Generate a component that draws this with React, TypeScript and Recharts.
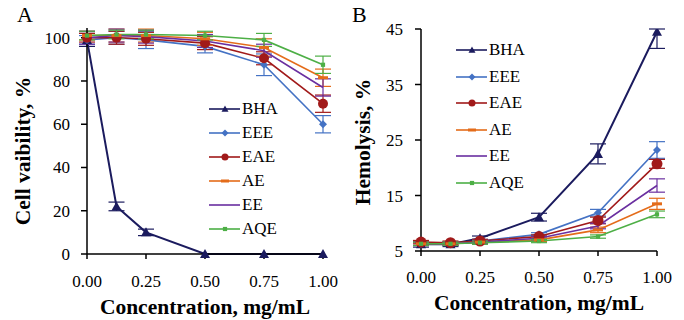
import React from "react";
import { LineChart, Line, XAxis, YAxis, ErrorBar } from "recharts";

// concentrations, mg/mL
const conc = [0, 0.125, 0.25, 0.5, 0.75, 1];
const xTicks = [0, 0.25, 0.5, 0.75, 1];
const viabTicks = [0, 20, 40, 60, 80, 100];
const hemoTicks = [5, 15, 25, 35, 45];

const names = ["BHA", "EEE", "EAE", "AE", "EE", "AQE"];

// panel A: cell viability, %
const viabBHA = [99, 22, 10, 0, 0, 0];
const viabEEE = [99, 100, 99, 96, 87.5, 60];
const viabEAE = [100, 100, 99.5, 97.5, 90.5, 69.5];
const viabAE = [101, 101, 101, 99.5, 95.5, 81.5];
const viabEE = [100, 101, 100.5, 98.5, 94, 77];
const viabAQE = [101, 101.5, 101.5, 101, 99, 87.5];

const viabErrBHA = [3, 2, 1.5, 0, 0, 0];
const viabErrEEE = [2, 3, 4, 3, 5, 4];
const viabErrEAE = [2, 3, 3, 3, 3, 4];
const viabErrAE = [2, 3, 3, 3, 4, 4];
const viabErrEE = [3, 3, 3, 3, 3, 4];
const viabErrAQE = [2, 2, 2, 2, 3, 4];

// panel B: hemolysis, %
const hemoBHA = [6.2, 6.2, 7.3, 11.1, 22.5, 44.5];
const hemoEEE = [6.3, 6.3, 6.8, 8.0, 11.9, 23.2];
const hemoEAE = [6.6, 6.5, 6.8, 7.6, 10.5, 20.7];
const hemoAE = [6.3, 6.3, 6.6, 7.0, 8.8, 13.5];
const hemoEE = [6.3, 6.3, 6.6, 7.3, 9.5, 16.8];
const hemoAQE = [6.3, 6.3, 6.5, 6.8, 7.6, 11.6];

// [lower, upper]; the upper arm of the last BHA bar is cut by the frame
const hemoErrBHA: any[] = [0.5, 0.4, 0.4, 0.7, 1.8, [3, 0.5]];
const hemoErrEEE = [0.3, 0.3, 0.3, 0.3, 0.6, 1.5];
const hemoErrEAE = [0.3, 0.3, 0.3, 0.3, 0.6, 0.8];
const hemoErrAE = [0.3, 0.3, 0.3, 0.3, 0.5, 1.0];
const hemoErrEE = [0.3, 0.3, 0.3, 0.3, 0.5, 1.2];
const hemoErrAQE = [0.3, 0.3, 0.3, 0.3, 0.3, 0.6];

const colors = ["#1B1B5E", "#4472C4", "#A11A1A", "#E46C1A", "#6A2FA0", "#4DAF46"];
const shapes = ["triangle", "diamond", "circle", "dash", "none", "square"];

const FONT = "'Liberation Serif', 'Times New Roman', serif";

const viabVals = [viabBHA, viabEEE, viabEAE, viabAE, viabEE, viabAQE];
const viabErrs = [viabErrBHA, viabErrEEE, viabErrEAE, viabErrAE, viabErrEE, viabErrAQE];
const hemoVals = [hemoBHA, hemoEEE, hemoEAE, hemoAE, hemoEE, hemoAQE];
const hemoErrs = [hemoErrBHA, hemoErrEEE, hemoErrEAE, hemoErrAE, hemoErrEE, hemoErrAQE];

function buildRows(vals: number[][], errs: any[][]) {
  return conc.map((c, i) => {
    const row: any = { c };
    names.forEach((n, k) => {
      row[n] = vals[k][i];
      row[n + "_err"] = errs[k][i];
    });
    return row;
  });
}

const viabData = buildRows(viabVals, viabErrs);
const hemoData = buildRows(hemoVals, hemoErrs);

function Marker({ shape, x, y, color, s }: any) {
  if (shape === "triangle")
    return <path d={`M${x},${y - s} L${x + s},${y + s * 0.8} L${x - s},${y + s * 0.8} Z`} fill={color} />;
  if (shape === "diamond")
    return <path d={`M${x},${y - s} L${x + s},${y} L${x},${y + s} L${x - s},${y} Z`} fill={color} />;
  if (shape === "circle") return <circle cx={x} cy={y} r={s} fill={color} />;
  if (shape === "dash") return <rect x={x - s} y={y - 1.5} width={s * 2} height={3} fill={color} />;
  if (shape === "square") return <rect x={x - s * 0.6} y={y - s * 0.6} width={s * 1.2} height={s * 1.2} fill={color} />;
  return null;
}

function makeDot(k: number, big: boolean) {
  const sizes = big ? [5, 4, 5.5, 5, 0, 3.5] : [5, 4, 5, 5, 0, 3.5];
  return (props: any) => {
    const { cx, cy, index } = props;
    if (cx == null || cy == null) return <g key={index} />;
    return (
      <g key={`d${k}-${index}`}>
        <Marker shape={shapes[k]} x={cx} y={cy} color={colors[k]} s={sizes[k]} />
      </g>
    );
  };
}

function LegendBox({ gap, left, top }: any) {
  return (
    <div style={{ position: "absolute", left, top, fontFamily: FONT, fontSize: 17, color: "#000" }}>
      {names.map((n, k) => (
        <div key={n} style={{ display: "flex", alignItems: "center", height: gap }}>
          <svg width={32} height={12}>
            <line x1={0} y1={6} x2={31} y2={6} stroke={colors[k]} strokeWidth={1.6} />
            <Marker shape={shapes[k]} x={16} y={6} color={colors[k]} s={k === 3 ? 4 : 3.5} />
          </svg>
          <span style={{ marginLeft: 1 }}>{n}</span>
        </div>
      ))}
    </div>
  );
}

const tickFont = { fontFamily: FONT, fontSize: 17, fill: "#000" };
const titleStyle = { fontFamily: FONT, fontSize: 21.5, fontWeight: 700, fill: "#000" };

function Panel({ data, domain, ticks, yLabel, margin, yWidth, xHeight, labelX, labelY, titleY, xTickY, yTickRight, overflow, big }: any) {
  const xTick = (p: any) => (
    <text x={p.x} y={xTickY} textAnchor="middle" style={tickFont}>
      {Number(p.payload.value).toFixed(2)}
    </text>
  );
  const yTick = (p: any) => (
    <text x={yTickRight} y={p.y + 6} textAnchor="end" style={tickFont}>
      {p.payload.value}
    </text>
  );
  return (
    <LineChart width={342} height={320} data={data} margin={margin}>
      <XAxis
        dataKey="c"
        type="number"
        domain={[0, 1]}
        ticks={xTicks}
        interval={0}
        tick={xTick}
        tickSize={5}
        height={xHeight}
        stroke="#000"
        strokeWidth={1.5}
        label={{
          content: (p: any) => {
            const vb = p.viewBox;
            return (
              <text x={vb.x + vb.width / 2} y={titleY} textAnchor="middle" style={titleStyle}>
                Concentration, mg/mL
              </text>
            );
          },
        }}
      />
      <XAxis xAxisId="top" dataKey="c" type="number" domain={[0, 1]} orientation="top" height={0} tick={false} tickLine={false} stroke="#000" strokeWidth={1.5} />
      <YAxis
        domain={domain}
        ticks={ticks}
        interval={0}
        tick={yTick}
        tickSize={6}
        width={yWidth}
        stroke="#000"
        strokeWidth={1.5}
        allowDataOverflow={overflow}
        label={{
          content: () => (
            <text x={labelX} y={labelY} transform={`rotate(-90 ${labelX} ${labelY})`} textAnchor="middle" style={titleStyle}>
              {yLabel}
            </text>
          ),
        }}
      />
      <YAxis yAxisId="right" orientation="right" width={0} tick={false} tickLine={false} stroke="#000" strokeWidth={1.5} />
      {names.map((n, k) => (
        <Line
          key={n}
          dataKey={n}
          type="linear"
          stroke={colors[k]}
          strokeWidth={k === 0 ? 2 : 1.6}
          dot={makeDot(k, big)}
          activeDot={false}
          isAnimationActive={false}
        >
          <ErrorBar dataKey={n + "_err"} width={8} stroke={colors[k]} strokeWidth={1.2} direction="y" />
        </Line>
      ))}
    </LineChart>
  );
}

export default function App() {
  return (
    <div style={{ position: "absolute", left: 0, top: 0, width: 684, height: 320, background: "#fff", fontFamily: FONT }}>
      <div style={{ position: "absolute", left: 0, top: 0 }}>
        <Panel
          data={viabData}
          domain={[0, 104.5]}
          ticks={viabTicks}
          yLabel="Cell vaibility, %"
          margin={{ top: 28, right: 19, left: 0, bottom: 0 }}
          yWidth={87}
          xHeight={66}
          labelX={30}
          labelY={151}
          titleY={314}
          xTickY={287}
          yTickRight={70}
          overflow={false}
          big={false}
        />
        <LegendBox gap={24} left={209} top={97} />
      </div>
      <div style={{ position: "absolute", left: 342, top: 0 }}>
        <Panel
          data={hemoData}
          domain={[5, 45]}
          ticks={hemoTicks}
          yLabel="Hemolysis,  %"
          margin={{ top: 29, right: 27, left: 0, bottom: 0 }}
          yWidth={79}
          xHeight={69}
          labelX={28}
          labelY={142}
          titleY={310}
          xTickY={283}
          yTickRight={61}
          overflow={true}
          big={true}
        />
        <LegendBox gap={26.5} left={114} top={37} />
      </div>
      <div style={{ position: "absolute", left: 17, top: 2, fontSize: 22, color: "#000" }}>A</div>
      <div style={{ position: "absolute", left: 352, top: 2, fontSize: 22, color: "#000" }}>B</div>
    </div>
  );
}
